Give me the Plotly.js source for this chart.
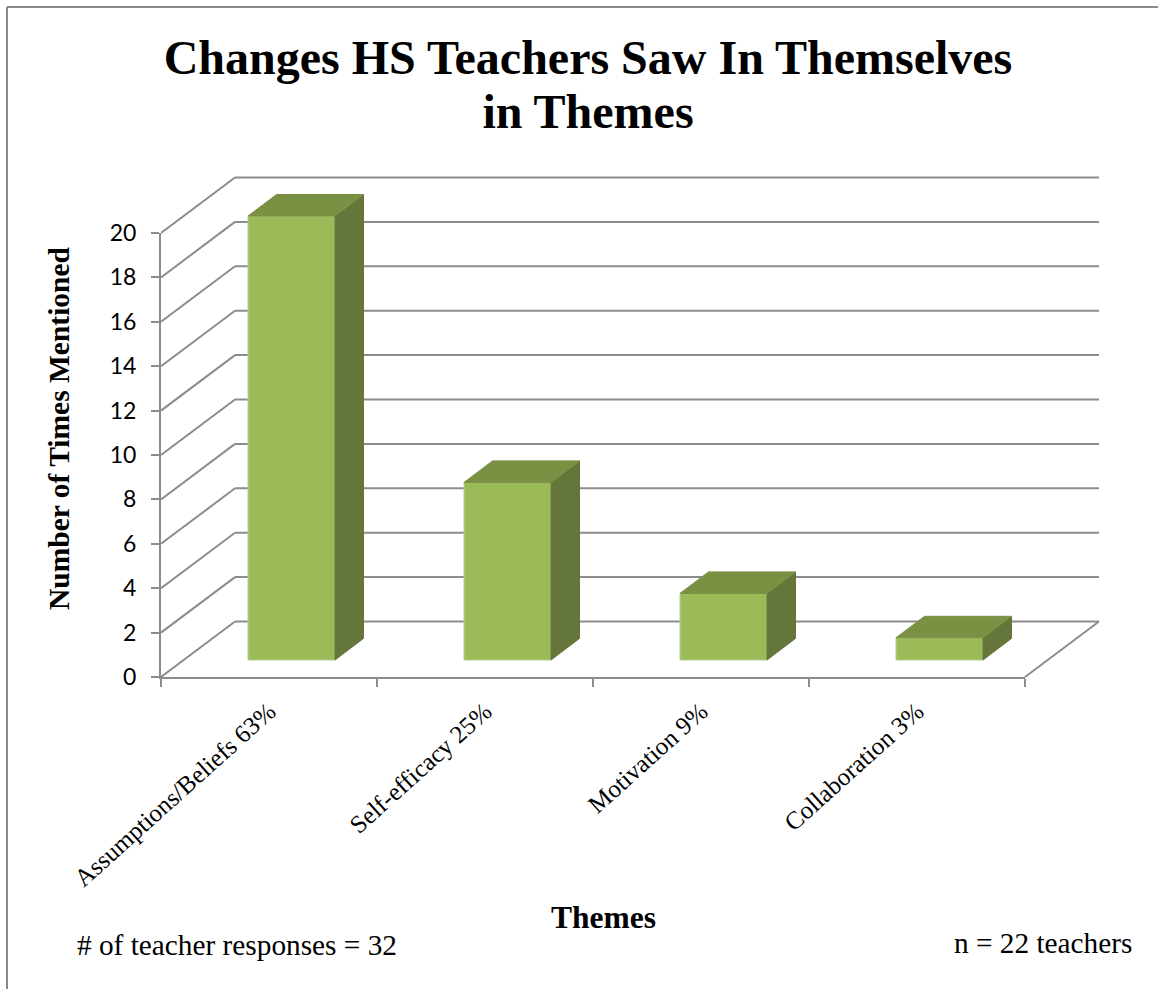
<!DOCTYPE html>
<html><head><meta charset="utf-8">
<script src="https://cdn.plot.ly/plotly-3.0.1.min.js"></script>
<style>html,body{margin:0;padding:0;background:#fff}</style></head>
<body><div id="chart" style="width:1158px;height:989px"></div>
<script>
var categories = ["Assumptions/Beliefs 63%","Self-efficacy 25%","Motivation 9%","Collaboration 3%"];
var counts = [20,8,3,1];
var yTicks = [0,2,4,6,8,10,12,14,16,18,20];
var xEdges = [0,1,2,3,4];

var W=1158,H=989,L=161,R=1105,T=170,B=687,Y0=677,YTOP=233,XEND=1025;
var pxX=216, pxY=22.2;
var wallDx=74/pxX, wallDy=55.5/pxY;
var barFrontDx=22.5/pxX, barFrontDy=17/pxY, barW=87/pxX;
var barDepthX=28.5/pxX, barDepthY=21.5/pxY;
var GRID='#8C8C8C', FRONT='#9BBB59', SIDE='#65763A', TOP='#7A9144', EDGE='#B9CF8B';
var serif='"Liberation Serif","Times New Roman",serif';

function line(x0,y0,x1,y1){return {type:'line',xref:'x',yref:'y',x0:x0,y0:y0,x1:x1,y1:y1,layer:'below',line:{color:GRID,width:2}};}
var shapes=[];
yTicks.forEach(function(v){
  shapes.push(line(0,v,wallDx,v+wallDy));
  shapes.push(line(wallDx,v+wallDy,4+wallDx,v+wallDy));
});
shapes.push(line(4,0,4+wallDx,wallDy));
function paperLine(px0,py0,px1,py1){return {type:'line',xref:'paper',yref:'paper',
  x0:(px0-L)/(R-L),x1:(px1-L)/(R-L),y0:(B-py0)/(B-T),y1:(B-py1)/(B-T),layer:'below',line:{color:'#8A8A8A',width:2}};}
shapes.push(paperLine(7,7,7,989));
shapes.push(paperLine(7,7,1158,7));

var traces=[];
var xc=categories.map(function(c,i){return i+0.5+barFrontDx;});
traces.push({type:'bar',x:xc,y:counts,base:counts.map(function(){return barFrontDy;}),width:barW,
  marker:{color:FRONT,line:{color:EDGE,width:1}},hoverinfo:'skip',showlegend:false});
counts.forEach(function(v,i){
  var x0=xc[i]-barW/2,x1=xc[i]+barW/2,b=barFrontDy,t=b+v;
  traces.push({type:'scatter',mode:'lines',x:[x1,x1+barDepthX,x1+barDepthX,x1,x1],y:[b,b+barDepthY,t+barDepthY,t,b],
    fill:'toself',fillcolor:SIDE,line:{color:SIDE,width:1},hoverinfo:'skip',showlegend:false});
  traces.push({type:'scatter',mode:'lines',x:[x0,x1,x1+barDepthX,x0+barDepthX,x0],y:[t,t,t+barDepthY,t+barDepthY,t],
    fill:'toself',fillcolor:TOP,line:{color:TOP,width:1},hoverinfo:'skip',showlegend:false});
});
// the front axis frame (lines, ticks, value labels) is a second subplot spanning only 0..4 and 0..20
traces.push({type:'scatter',mode:'markers',x:xEdges,y:xEdges.map(function(){return 0;}),xaxis:'x2',yaxis:'y2',marker:{opacity:0},hoverinfo:'skip',showlegend:false});

var plotW=R-L, plotH=B-T;
var layout={
  width:W,height:H,paper_bgcolor:'#fff',plot_bgcolor:'rgba(0,0,0,0)',showlegend:false,
  margin:{l:L,r:W-R,t:T,b:H-B,pad:0},
  title:{text:'<b><span style="font-size:48px">Changes HS Teachers Saw In Themselves</span><br><span style="font-size:48px">in Themes</span></b>',
    x:588/W,xanchor:'center',y:1-74/H,yanchor:'top',font:{family:serif,size:41.5,color:'#000'}},
  xaxis:{range:[0,plotW/pxX],tickmode:'array',tickvals:categories.map(function(c,i){return i+0.5;}),ticktext:categories,
    tickangle:-42,ticks:'',ticklabelstandoff:4,showgrid:false,zeroline:false,showline:false,fixedrange:true,
    tickfont:{family:serif,size:25,color:'#000'}},
  yaxis:{range:[(Y0-B)/pxY,(Y0-T)/pxY],showticklabels:false,ticks:'',showgrid:false,zeroline:false,showline:false,fixedrange:true,
    title:{text:'<b>Number of Times Mentioned</b>',standoff:81,font:{family:serif,size:29.5,color:'#000'}}},
  xaxis2:{domain:[0,(XEND-L)/plotW],anchor:'y2',range:[0,4],tickmode:'array',tickvals:xEdges,showticklabels:false,
    ticks:'outside',ticklen:8,tickwidth:2,tickcolor:GRID,showline:true,linecolor:GRID,linewidth:2,showgrid:false,zeroline:false,fixedrange:true},
  yaxis2:{domain:[(B-Y0)/plotH,(B-YTOP)/plotH],anchor:'x2',range:[0,20],tickmode:'array',tickvals:yTicks,
    ticks:'outside',ticklen:8,tickwidth:2,tickcolor:GRID,ticklabelstandoff:10,showline:true,linecolor:GRID,linewidth:2,showgrid:false,zeroline:false,fixedrange:true,
    tickfont:{family:'Lato,sans-serif',size:23,color:'#000'}},
  shapes:shapes,
  annotations:[
    {xref:'paper',yref:'paper',x:(603-L)/plotW,y:(B-917)/plotH,text:'<b>Themes</b>',showarrow:false,xanchor:'center',yanchor:'middle',font:{family:serif,size:31.5,color:'#000'}},
    {xref:'paper',yref:'paper',x:(75-L)/plotW,y:(B-945)/plotH,text:'# of teacher responses = 32',showarrow:false,xanchor:'left',yanchor:'middle',font:{family:serif,size:29.3,color:'#000'}},
    {xref:'paper',yref:'paper',x:(1134-L)/plotW,y:(B-943)/plotH,text:'n = 22 teachers',showarrow:false,xanchor:'right',yanchor:'middle',font:{family:serif,size:29.3,color:'#000'}}
  ]
};
Plotly.newPlot('chart',traces,layout,{displayModeBar:false,responsive:false});
</script></body></html>
